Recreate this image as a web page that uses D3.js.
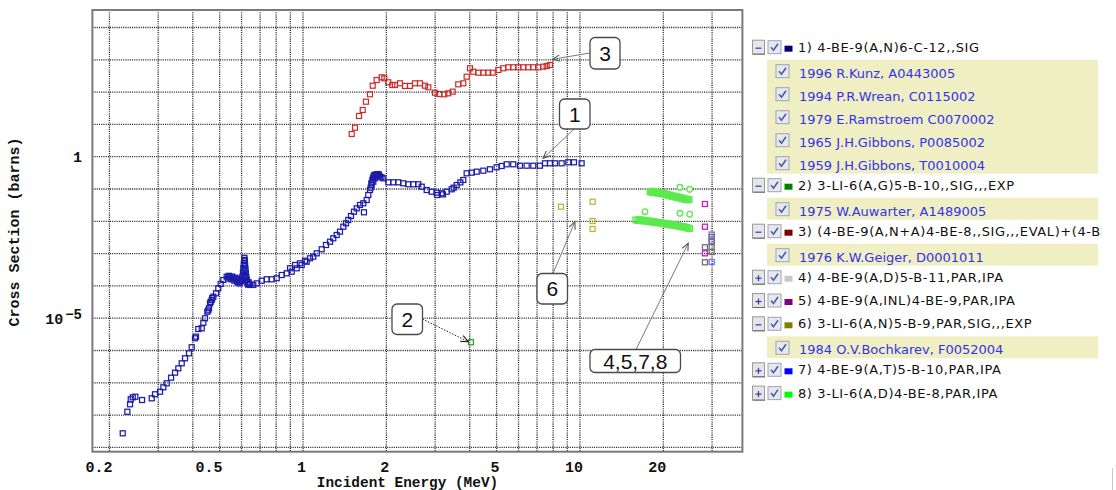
<!DOCTYPE html>
<html>
<head>
<meta charset="utf-8">
<script src="https://cdn.jsdelivr.net/npm/d3@7"></script>
<style>
  html, body { margin: 0; padding: 0; background: #fff; }
  svg { display: block; }
</style>
</head>
<body>
<svg id="chart" width="1116" height="490"></svg>
<script>
// ---- data: incident energy (MeV) and cross section (barns) ----
const s1Energy = [0.2234,0.2321,0.2374,0.2388,0.2428,0.2481,0.2623,0.2843,0.2922,0.3047,0.3132,0.3221,0.3339,0.3451,0.3547,0.3648,0.3750,0.3876,0.3964,0.4074,0.4108,0.4188,0.4308,0.4366,0.4428,0.4513,0.4550,0.4577,0.4616,0.4640,0.4682,0.4700,0.4745,0.4852,0.4944,0.5044,0.5154,0.5302,0.535,0.540,0.5452,0.550,0.555,0.5603,0.565,0.570,0.5764,0.580,0.585,0.590,0.5925,0.597,0.600,0.604,0.607,0.609,0.611,0.612,0.613,0.614,0.615,0.616,0.617,0.618,0.619,0.620,0.621,0.622,0.624,0.627,0.630,0.633,0.636,0.640,0.6437,0.6614,0.6805,0.7095,0.7396,0.7709,0.8037,0.8378,0.8734,0.898,0.9103,0.936,0.9491,0.975,0.9892,1.017,1.031,1.060,1.089,1.121,1.168,1.211,1.252,1.286,1.323,1.360,1.398,1.430,1.457,1.490,1.528,1.563,1.606,1.651,1.660,1.698,1.721,1.745,1.755,1.765,1.770,1.780,1.790,1.794,1.800,1.810,1.820,1.830,1.845,1.850,1.860,1.870,1.880,1.897,1.920,1.950,2.032,2.118,2.208,2.302,2.399,2.501,2.608,2.683,2.797,2.915,3.039,3.050,3.168,3.200,3.303,3.443,3.500,3.589,3.700,3.791,3.899,4.064,4.238,4.477,4.732,5.003,5.216,5.437,5.743,6.073,6.421,6.783,7.172,7.477,7.795,8.125,8.590,9.075,9.513,10.14];
const s1Sigma = [2.73e-9,1.27e-8,2.16e-8,3.08e-8,3.56e-8,3.71e-8,2.93e-8,3.31e-8,4.41e-8,5.30e-8,7.26e-8,9.66e-8,1.44e-7,2.06e-7,2.81e-7,4.02e-7,5.74e-7,8.19e-7,1.26e-6,2.39e-6,2.68e-6,4.63e-6,4.87e-6,7.26e-6,9.94e-6,1.59e-5,1.75e-5,2.03e-5,2.89e-5,3.2e-5,3.66e-5,4.2e-5,4.63e-5,5.90e-5,8.43e-5,1.15e-4,1.52e-4,1.93e-4,1.70e-4,2.05e-4,1.85e-4,1.60e-4,1.95e-4,1.72e-4,1.45e-4,1.80e-4,1.52e-4,1.30e-4,1.65e-4,1.20e-4,1.35e-4,1.50e-4,1.40e-4,1.9e-4,2.6e-4,3.5e-4,4.6e-4,2.2e-4,6.0e-4,7.4e-4,3.0e-4,6.4e-4,5.2e-4,4.1e-4,2.0e-4,3.2e-4,1.5e-4,2.5e-4,1.9e-4,1.55e-4,1.25e-4,1.1e-4,1.30e-4,1.15e-4,1.07e-4,1.07e-4,1.20e-4,1.45e-4,1.60e-4,1.60e-4,1.72e-4,2.17e-4,2.45e-4,3.51e-4,2.75e-4,4.44e-4,3.51e-4,5.01e-4,4.44e-4,6.03e-4,5.61e-4,7.15e-4,8.02e-4,1.02e-3,1.36e-3,1.85e-3,2.33e-3,2.98e-3,3.77e-3,4.77e-3,6.81e-3,8.67e-3,1.10e-2,1.46e-2,1.98e-2,2.52e-2,3.20e-2,3.61e-2,1.90e-2,4.56e-2,6.51e-2,9.31e-2,0.11,0.15,0.133,0.19,0.22,0.168,0.25,0.27,0.214,0.28,0.271,0.25,0.29,0.271,0.28,0.240,0.23,0.214,0.161,0.161,0.161,0.150,0.140,0.140,0.140,0.118,0.093,0.0824,0.0768,0.065,0.0736,0.068,0.0824,0.098,0.11,0.133,0.16,0.190,0.306,0.320,0.343,0.369,0.408,0.470,0.515,0.582,0.582,0.526,0.526,0.526,0.526,0.625,0.625,0.625,0.625,0.671,0.671,0.625];

const s2Energy = [4.04];
const s2Sigma = [1.8e-6];

const s3Energy = [1.499,1.541,1.593,1.643,1.688,1.745,1.785,1.845,1.924,1.966,2.032,2.101,2.148,2.240,2.335,2.433,2.537,2.645,2.757,2.835,2.996,3.105,3.237,3.346,3.471,3.636,3.791,3.899,4.008,4.120,4.295,4.477,4.667,4.839,5.072,5.287,5.510,5.743,5.988,6.242,6.507,6.783,7.071,7.371,7.583,7.795];
const s3Sigma = [5.04,7.91,18.2,27.9,50.4,85.5,158,237,287,267,201,166,166,187,155,155,187,187,158,141,95.8,87.3,85.5,91.8,103,174,187,300,546,428,399,399,399,399,483,546,586,586,586,586,586,586,586,611,643,690];

const s4Energy = [28.27,28.27,29.9,29.9,29.9,29.9];
const s4Sigma = [1.57e-3,5.38e-4,3.27e-3,2.29e-3,1.60e-3,1.12e-3];

const s5Energy = [28.27,28.27,28.27];
const s5Sigma = [0.0343,0.0068,1.02e-3];

const s6Energy = [8.54,11.11,11.11,11.11];
const s6Sigma = [0.0283,0.0404,0.0102,0.00578];

const s7Energy = [29.9,29.9,29.9];
const s7Sigma = [3.9e-3,2.5e-3,5.5e-4];

const s8Energy = [17.9,18.1,18.4,18.6,18.9,19.1,19.4,19.7,20.0,20.3,20.6,20.9,21.2,21.5,21.8,22.1,22.4,22.7,23.0,23.3,23.6,23.9,24.2,24.5,24.8,
  15.9,16.2,16.5,16.8,17.1,17.4,17.7,18.0,18.3,18.6,18.9,19.2,19.5,19.8,20.1,20.4,20.7,21.0,21.3,21.6,21.9,22.2,22.5,22.8,23.1,23.4,23.7,24.0,24.3,24.6,24.9];
const s8Sigma = [0.083,0.079,0.085,0.078,0.080,0.074,0.077,0.071,0.073,0.067,0.069,0.063,0.065,0.059,0.061,0.056,0.058,0.053,0.055,0.050,0.052,0.048,0.049,0.046,0.047,
  0.0110,0.0106,0.0112,0.0103,0.0107,0.0100,0.0103,0.0096,0.0099,0.0092,0.0095,0.0089,0.0091,0.0086,0.0088,0.0082,0.0084,0.0079,0.0081,0.0076,0.0077,0.0073,0.0074,0.0070,0.0071,0.0067,0.0068,0.0064,0.0065,0.0061,0.0060];
// second data set of series 8, drawn with round markers and lower error bars
const s8bEnergy = [22.96,24.9,17.17,22.96,24.9];
const s8bSigma = [0.113,0.098,0.0198,0.0177,0.0165];
const s8bLow = [0.085,0.075,0.0155,0.0135,0.0127];

const xTickLabels = [0.2, 0.5, 1, 2, 5, 10, 20];
const yTickLabels = [1, 1e-5];

// legend content
const seriesLabels = [
  "1) 4-BE-9(A,N)6-C-12,,SIG",
  "2) 3-LI-6(A,G)5-B-10,,SIG,,,EXP",
  "3) (4-BE-9(A,N+A)4-BE-8,,SIG,,,EVAL)+(4-BE",
  "4) 4-BE-9(A,D)5-B-11,PAR,IPA",
  "5) 4-BE-9(A,INL)4-BE-9,PAR,IPA",
  "6) 3-LI-6(A,N)5-B-9,PAR,SIG,,,EXP",
  "7) 4-BE-9(A,T)5-B-10,PAR,IPA",
  "8) 3-LI-6(A,D)4-BE-8,PAR,IPA"
];
const seriesSwatch = ["#000080","#008000","#800000","#c8c8c8","#800080","#808000","#0000ff","#00ff00"];
const seriesExpanded = [true, true, true, false, false, true, false, false];
const seriesRefs = [
  ["1996 R.Kunz, A0443005","1994 P.R.Wrean, C0115002","1979 E.Ramstroem C0070002","1965 J.H.Gibbons, P0085002","1959 J.H.Gibbons, T0010004"],
  ["1975 W.Auwarter, A1489005"],
  ["1976 K.W.Geiger, D0001011"],
  [], [],
  ["1984 O.V.Bochkarev, F0052004"],
  [], []
];

// callout labels and the point each one indicates (energy, cross section)
const calloutText = ["3", "1", "6", "2", "4,5,7,8"];
const calloutTargetE = [7.97, 7.37, 9.59, 3.95, 24.6];
const calloutTargetS = [1036, 0.892, 0.00972, 1.87e-6, 2.08e-3];

// ---- drawing ----
const svg = d3.select("#chart");
const plot = { left: 92.4, right: 742.4, top: 10, bottom: 451.7 };

const x = d3.scaleLog().domain([0.1736, 38.6]).range([plot.left, plot.right]);
const y = d3.scaleLog().domain([7.36e-10, 3.48e4]).range([plot.bottom, plot.top]);

svg.append("rect").attr("width", 1116).attr("height", 490).attr("fill", "#fff");

const defs = svg.append("defs");
defs.append("clipPath").attr("id", "plotClip")
  .append("rect").attr("x", plot.left).attr("y", plot.top)
  .attr("width", plot.right - plot.left).attr("height", plot.bottom - plot.top);
defs.append("clipPath").attr("id", "legendClip")
  .append("rect").attr("x", 740).attr("y", 0).attr("width", 362).attr("height", 490);

// grid
const grid = svg.append("g").attr("clip-path", "url(#plotClip)");
const xGrid = x.ticks().filter(v => v > 0.18 && v < 38);
grid.selectAll("line.vx").data(xGrid).join("line")
  .attr("x1", d => x(d)).attr("x2", d => x(d))
  .attr("y1", plot.top).attr("y2", plot.bottom)
  .attr("stroke", "#2a2a2a").attr("stroke-width", 1.3).attr("stroke-dasharray", "1.1,1.1");
const yGrid = d3.range(-9, 5).map(e => Math.pow(10, e));
grid.selectAll("line.hy").data(yGrid).join("line")
  .attr("x1", plot.left).attr("x2", plot.right)
  .attr("y1", d => y(d)).attr("y2", d => y(d))
  .attr("stroke", "#2a2a2a").attr("stroke-width", 1.3).attr("stroke-dasharray", "1.1,1.1");

// frame
svg.append("rect")
  .attr("x", plot.left).attr("y", plot.top)
  .attr("width", plot.right - plot.left).attr("height", plot.bottom - plot.top)
  .attr("fill", "none").attr("stroke", "#7a7a7a").attr("stroke-width", 2);

// x axis labels
const xAxis = d3.axisBottom(x).tickValues(xTickLabels).tickSize(0)
  .tickFormat(d => String(d));
const xg = svg.append("g").attr("transform", `translate(0,${plot.bottom})`).call(xAxis);
xg.select(".domain").remove();
xg.selectAll("text")
  .attr("font-family", "'Liberation Mono', 'DejaVu Sans Mono', monospace")
  .attr("font-weight", "bold").attr("font-size", 15).attr("fill", "#111")
  .attr("text-anchor", "end").attr("x", 2.5).attr("dy", null).attr("y", 20.5);

// y axis labels
const yl = svg.append("g")
  .attr("font-family", "'Liberation Mono', 'DejaVu Sans Mono', monospace")
  .attr("font-weight", "bold").attr("fill", "#111");
yl.selectAll("text").data(yTickLabels).join("text")
  .attr("x", 82).attr("y", d => y(d) + 5.5)
  .attr("text-anchor", "end").attr("font-size", 15)
  .each(function(d) {
    const t = d3.select(this);
    const e = Math.round(Math.log10(d));
    if (e === 0) { t.text("1"); }
    else {
      t.append("tspan").text("10");
      t.append("tspan").attr("dy", -5).attr("dx", 2).attr("font-size", 14).text("\u2212" + Math.abs(e));
    }
  });

// axis titles
svg.append("text")
  .attr("x", 407.5).attr("y", 487)
  .attr("text-anchor", "middle")
  .attr("font-family", "'Liberation Mono', 'DejaVu Sans Mono', monospace")
  .attr("font-weight", "bold").attr("font-size", 14.4).attr("fill", "#111")
  .text("Incident Energy (MeV)");
svg.append("text")
  .attr("transform", "translate(19,232) rotate(-90)")
  .attr("text-anchor", "middle")
  .attr("font-family", "'Liberation Mono', 'DejaVu Sans Mono', monospace")
  .attr("font-weight", "bold").attr("font-size", 15).attr("fill", "#111")
  .text("Cross Section (barns)");

// markers
const marks = svg.append("g").attr("clip-path", "url(#plotClip)");
function squares(energy, sigma, color, size, width) {
  const pts = energy.map((e, i) => [e, sigma[i]]);
  marks.append("g").selectAll("rect").data(pts).join("rect")
    .attr("x", d => x(d[0]) - size / 2).attr("y", d => y(d[1]) - size / 2)
    .attr("width", size).attr("height", size)
    .attr("fill", "none").attr("stroke", color).attr("stroke-width", width);
}
squares(s1Energy, s1Sigma, "#1c1ca8", 5, 1.25);
squares(s3Energy, s3Sigma, "#cc2a2a", 5, 1.2);
squares(s2Energy, s2Sigma, "#22a022", 5, 1.2);
squares(s6Energy, s6Sigma, "#bdb126", 5, 1.2);

// series 8: error bars then markers
const green = "#5aea4e";
const s8pts = s8Energy.map((e, i) => [e, s8Sigma[i]]);
marks.append("g").selectAll("line").data(s8pts).join("line")
  .attr("x1", d => x(d[0])).attr("x2", d => x(d[0]))
  .attr("y1", d => y(d[1] * 1.3)).attr("y2", d => y(d[1] / 1.3))
  .attr("stroke", green).attr("stroke-width", 1.4);
squares(s8Energy, s8Sigma, green, 5.5, 1.4);
const s8bpts = s8bEnergy.map((e, i) => [e, s8bSigma[i], s8bLow[i]]);
marks.append("g").selectAll("line").data(s8bpts).join("line")
  .attr("x1", d => x(d[0])).attr("x2", d => x(d[0]))
  .attr("y1", d => y(d[1])).attr("y2", d => y(d[2]))
  .attr("stroke", green).attr("stroke-width", 1.3);
marks.append("g").selectAll("circle").data(s8bpts).join("circle")
  .attr("cx", d => x(d[0])).attr("cy", d => y(d[1])).attr("r", 2.8)
  .attr("fill", "#fff").attr("stroke", green).attr("stroke-width", 1.3);

squares(s7Energy, s7Sigma, "#7070ff", 5, 1.3);
squares(s4Energy, s4Sigma, "#707070", 5, 1.3);
squares(s5Energy, s5Sigma, "#c020c0", 5, 1.3);

// callouts
const callBoxes = [
  { x: 590, y: 37.5, w: 30, h: 31.5, ax: 590, ay: 53, dotted: false },
  { x: 559.5, y: 99, w: 30.5, h: 30, ax: 574, ay: 129, dotted: false },
  { x: 537, y: 273.5, w: 30.5, h: 30.5, ax: 553, ay: 273.5, dotted: false },
  { x: 392, y: 304, w: 30.5, h: 30.5, ax: 422.5, ay: 319, dotted: true },
  { x: 590, y: 349.5, w: 90.5, h: 23, ax: 636, ay: 349.5, dotted: false }
];
const callG = svg.append("g");
calloutText.forEach((txt, i) => {
  const b = callBoxes[i];
  const tx = x(calloutTargetE[i]), ty = y(calloutTargetS[i]);
  const col = b.dotted ? "#222" : "#7a7a7a";
  callG.append("line")
    .attr("x1", b.ax).attr("y1", b.ay).attr("x2", tx).attr("y2", ty)
    .attr("stroke", col).attr("stroke-width", 1)
    .attr("stroke-dasharray", b.dotted ? "1.5,1.5" : null);
  const ang = Math.atan2(ty - b.ay, tx - b.ax);
  const L = 8, spread = 0.42;
  const p1 = [tx - L * Math.cos(ang - spread), ty - L * Math.sin(ang - spread)];
  const p2 = [tx - L * Math.cos(ang + spread), ty - L * Math.sin(ang + spread)];
  callG.append("path")
    .attr("d", `M${p1[0]},${p1[1]}L${tx},${ty}L${p2[0]},${p2[1]}`)
    .attr("fill", "none").attr("stroke", b.dotted ? "#222" : "#555").attr("stroke-width", 1.1);
  callG.append("rect")
    .attr("x", b.x).attr("y", b.y).attr("width", b.w).attr("height", b.h)
    .attr("rx", 5).attr("fill", "#fff").attr("stroke", "#4a4a4a").attr("stroke-width", 1.3);
  callG.append("text")
    .attr("x", b.x + b.w / 2).attr("y", b.y + b.h / 2 + 7.5)
    .attr("text-anchor", "middle")
    .attr("font-family", "'Liberation Sans', Arial, sans-serif")
    .attr("font-size", 21).attr("fill", "#111")
    .text(txt);
});

// legend
const leg = svg.append("g").attr("clip-path", "url(#legendClip)");
function checkbox(g, cx, cy) {
  g.append("rect").attr("x", cx).attr("y", cy).attr("width", 13).attr("height", 13)
    .attr("fill", "#e4e8f0").attr("stroke", "#a0a4ac").attr("stroke-width", 1);
  g.append("path")
    .attr("d", `M${cx + 3},${cy + 6.5}L${cx + 5.5},${cy + 9.5}L${cx + 10},${cy + 3}`)
    .attr("fill", "none").attr("stroke", "#4a5f9a").attr("stroke-width", 1.6);
}
let cy = 46.7;
seriesLabels.forEach((lab, i) => {
  const row = leg.append("g");
  // expand/collapse button
  row.append("rect").attr("x", 752.5).attr("y", cy - 6.5).attr("width", 12).attr("height", 14)
    .attr("fill", "#e6e6e6").attr("stroke", "#9a9a9a").attr("stroke-width", 1);
  row.append("line").attr("x1", 753).attr("x2", 765).attr("y1", cy + 7.5).attr("y2", cy + 7.5)
    .attr("stroke", "#6a6a6a").attr("stroke-width", 1);
  row.append("line").attr("x1", 755.5).attr("x2", 761.5).attr("y1", cy + 1.5).attr("y2", cy + 1.5)
    .attr("stroke", "#2a3ac8").attr("stroke-width", 1.2);
  if (!seriesExpanded[i]) {
    row.append("line").attr("x1", 758.5).attr("x2", 758.5).attr("y1", cy - 1.5).attr("y2", cy + 4.5)
      .attr("stroke", "#2a3ac8").attr("stroke-width", 1.2);
  }
  checkbox(row, 768, cy - 6);
  row.append("rect").attr("x", 784.5).attr("y", cy - 1).attr("width", 8).attr("height", 6)
    .attr("fill", seriesSwatch[i]);
  row.append("text").attr("x", 798).attr("y", cy + 5)
    .attr("font-family", "'DejaVu Sans', Verdana, sans-serif").attr("font-size", 13)
    .attr("letter-spacing", 0.6)
    .attr("fill", "#111").text(lab);
  const refs = seriesRefs[i];
  if (seriesExpanded[i] && refs.length) {
    const top = cy + 13;
    leg.append("rect").attr("x", 767).attr("y", top).attr("width", 331)
      .attr("height", 23 * refs.length - 1).attr("fill", "#efefc3");
    refs.forEach((r, k) => {
      const ry = top + 13 + 23 * k;
      checkbox(leg, 776, ry - 8);
      leg.append("text").attr("x", 799).attr("y", ry + 5)
        .attr("font-family", "'DejaVu Sans', Verdana, sans-serif").attr("font-size", 13)
        .attr("fill", "#3232ee").text(r);
    });
    cy = top + 23 * refs.length - 1 + 11;
  } else {
    cy += 23.3;
  }
});

// window edge line at the right
svg.append("line").attr("x1", 1112.5).attr("x2", 1112.5).attr("y1", 468).attr("y2", 490)
  .attr("stroke", "#c8c8c8").attr("stroke-width", 1);
</script>
</body>
</html>
